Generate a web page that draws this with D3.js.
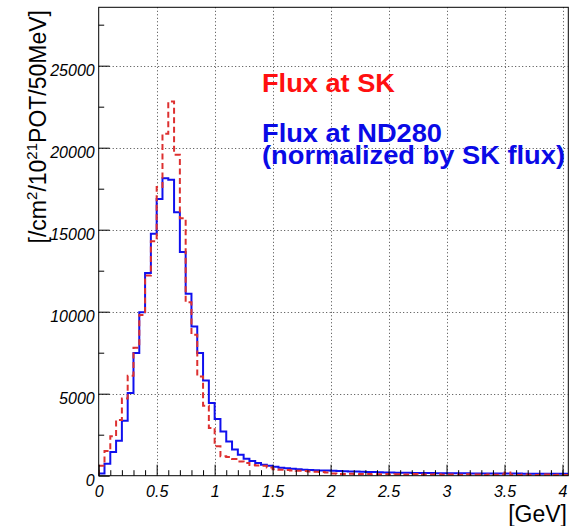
<!DOCTYPE html>
<html>
<head>
<meta charset="utf-8">
<script src="https://cdn.jsdelivr.net/npm/d3@7/dist/d3.min.js"></script>
<style>
  html, body { margin: 0; padding: 0; background: #fff; }
  svg { display: block; }
  text { font-family: "Liberation Sans", Arial, Helvetica, sans-serif; }
</style>
</head>
<body>
<div id="chart"></div>
<script>
// ---------------- DATA ----------------
// 50 MeV bins starting at 0 GeV (81 bins, 0 - 4.05 GeV)
const binWidthGeV = 0.05;

// Flux at ND280 (normalized by SK flux) - blue solid
const fluxND280 = [
  130, 730, 1440, 2130, 3350, 5040, 7480, 9960, 12360, 14760,
  16870, 18130, 18050, 16060, 13640, 11100, 9100, 7480, 5810, 4430,
  3460, 2700, 2090, 1590, 1280, 1040, 900, 770, 670, 610,
  540, 490, 450, 420, 400, 370, 350, 330, 320, 310,
  300, 280, 270, 260, 250, 240, 230, 220, 210, 200,
  190, 185, 180, 175, 170, 165, 160, 160, 155, 150,
  150, 150, 145, 145, 140, 140, 140, 135, 135, 135,
  130, 130, 130, 125, 125, 125, 120, 120, 120, 120, 115
];

// Flux at SK - red dashed
const fluxSK = [
  600, 1500, 2400, 3400, 4700, 6100, 7800, 9800, 12200, 14300,
  17600, 20850, 22820, 19570, 15700, 10570, 8600, 6050, 4270, 2910,
  1790, 1180, 1140, 1020, 870, 770, 650, 620, 600, 500,
  400, 360, 340, 320, 300, 280, 260, 240, 220, 200,
  130, 110, 100, 120, 90, 100, 110, 80, 90, 100,
  70, 90, 80, 70, 100, 60, 80, 70, 90, 60,
  80, 70, 60, 90, 60, 70, 50, 80, 60, 70,
  200, 60, 50, 70, 60, 50, 60, 70, 50, 60, 50
];

const xMajorTicks = [0, 0.5, 1, 1.5, 2, 2.5, 3, 3.5, 4];
const xTickLabels = ["0", "0.5", "1", "1.5", "2", "2.5", "3", "3.5", "4"];
const xMinorTicks = [0.1,0.2,0.3,0.4,0.6,0.7,0.8,0.9,1.1,1.2,1.3,1.4,1.6,1.7,1.8,1.9,
                     2.1,2.2,2.3,2.4,2.6,2.7,2.8,2.9,3.1,3.2,3.3,3.4,3.6,3.7,3.8,3.9,4.0];
const yMajorTicks = [0, 5000, 10000, 15000, 20000, 25000];
const yTickLabels = ["0", "5000", "10000", "15000", "20000", "25000"];
const yMinorTicks = [2500, 7500, 12500, 17500, 22500, 27500];

const xDomain = [0, 4.05];
const yDomain = [0, 28560];

const legendSK = "Flux at SK";
const legendND1 = "Flux at ND280";
const legendND2 = "(normalized by SK flux)";

// ---------------- LAYOUT ----------------
const W = 579, H = 526;
const L = 98.7, R = 568.3, T = 7.3, B = 475.7;

const svg = d3.select("#chart").append("svg")
  .attr("width", W).attr("height", H);

const x = d3.scaleLinear().domain(xDomain).range([L, R]);
const y = d3.scaleLinear().domain(yDomain).range([B, T]);

// grid (dotted)
const grid = svg.append("g").attr("stroke", "#444").attr("stroke-width", 1)
  .attr("stroke-dasharray", "1,2.5");
grid.selectAll("line.gx").data(xMajorTicks.filter(d => d > 0)).join("line")
  .attr("x1", d => Math.round(x(d)) + 0.5).attr("x2", d => Math.round(x(d)) + 0.5)
  .attr("y1", T).attr("y2", B);
grid.selectAll("line.gy").data(yMajorTicks.filter(d => d > 0)).join("line")
  .attr("x1", L).attr("x2", R)
  .attr("y1", d => Math.round(y(d)) + 0.5).attr("y2", d => Math.round(y(d)) + 0.5);

// clip
svg.append("clipPath").attr("id", "clip").append("rect")
  .attr("x", L).attr("y", T).attr("width", R - L).attr("height", B - T);

function stepPoints(vals) {
  const pts = [[0, 0]];
  vals.forEach((v, i) => pts.push([i * binWidthGeV, v]));
  pts.push([vals.length * binWidthGeV, vals[vals.length - 1]]);
  return pts;
}
const line = d3.line().x(d => x(d[0])).y(d => y(d[1])).curve(d3.curveStepAfter);

const plot = svg.append("g").attr("clip-path", "url(#clip)");
plot.append("path").attr("d", line(stepPoints(fluxND280)))
  .attr("fill", "none").attr("stroke", "#1010ee").attr("stroke-width", 2);
plot.append("path").attr("d", line(stepPoints(fluxSK)))
  .attr("fill", "none").attr("stroke", "#dd3030").attr("stroke-width", 2)
  .attr("stroke-dasharray", "6,3.5");

// axes
const xAxis = svg.append("g").attr("transform", `translate(0,${B})`)
  .call(d3.axisBottom(x).tickValues(xMajorTicks).tickSize(-11).tickSizeOuter(0)
    .tickPadding(10).tickFormat((d, i) => xTickLabels[i]));
const xAxisMinor = svg.append("g").attr("transform", `translate(0,${B})`)
  .call(d3.axisBottom(x).tickValues(xMinorTicks).tickSize(-5.5).tickSizeOuter(0)
    .tickFormat(""));
const yAxis = svg.append("g").attr("transform", `translate(${L},0)`)
  .call(d3.axisLeft(y).tickValues(yMajorTicks).tickSize(-11).tickSizeOuter(0)
    .tickPadding(4).tickFormat((d, i) => yTickLabels[i]));
const yAxisMinor = svg.append("g").attr("transform", `translate(${L},0)`)
  .call(d3.axisLeft(y).tickValues(yMinorTicks).tickSize(-5.5).tickSizeOuter(0)
    .tickFormat(""));

[xAxis, xAxisMinor, yAxis, yAxisMinor].forEach(g => {
  g.select(".domain").remove();
  g.selectAll("line").attr("stroke", "#000");
  g.selectAll("text").attr("font-size", 16).attr("font-style", "italic")
    .attr("fill", "#000")
    .attr("font-family", "'Liberation Sans', Arial, Helvetica, sans-serif");
});
yAxis.selectAll("text").attr("dy", "0.62em");

// frame
svg.append("rect").attr("x", L).attr("y", T).attr("width", R - L).attr("height", B - T)
  .attr("fill", "none").attr("stroke", "#000").attr("stroke-width", 1);

// axis titles
svg.append("text").attr("x", 567).attr("y", 522).attr("text-anchor", "end")
  .attr("font-size", 23).attr("fill", "#000").text("[GeV]");

const yt = svg.append("text")
  .attr("transform", "translate(46,10) rotate(-90)")
  .attr("text-anchor", "end").attr("font-size", 23).attr("fill", "#000");
yt.append("tspan").text("[/cm");
yt.append("tspan").attr("font-size", 15).attr("dy", -9).text("2");
yt.append("tspan").attr("dy", 9).text("/10");
yt.append("tspan").attr("font-size", 15).attr("dy", -9).text("21");
yt.append("tspan").attr("dy", 9).text("POT/50MeV]");

// legend texts
svg.append("text").attr("x", 262).attr("y", 91.5).attr("font-size", 26)
  .attr("font-weight", "bold").attr("fill", "#ff1010")
  .attr("textLength", 133).attr("lengthAdjust", "spacingAndGlyphs").text(legendSK);
svg.append("text").attr("x", 262).attr("y", 141.5).attr("font-size", 26)
  .attr("font-weight", "bold").attr("fill", "#0a0ae6")
  .attr("textLength", 180).attr("lengthAdjust", "spacingAndGlyphs").text(legendND1);
svg.append("text").attr("x", 262).attr("y", 163.5).attr("font-size", 26)
  .attr("font-weight", "bold").attr("fill", "#0a0ae6")
  .attr("textLength", 303).attr("lengthAdjust", "spacingAndGlyphs").text(legendND2);
</script>
</body>
</html>
